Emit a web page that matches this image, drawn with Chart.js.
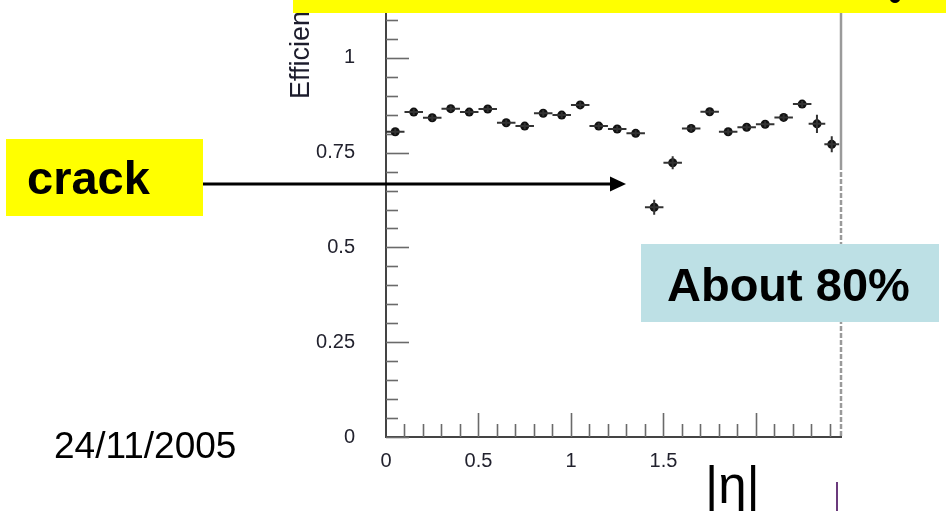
<!DOCTYPE html>
<html>
<head>
<meta charset="utf-8">
<script src="https://cdn.jsdelivr.net/npm/chart.js@4.4.1/dist/chart.umd.min.js"></script>
<style>
html,body{margin:0;padding:0;background:#fff;}
canvas{display:block;}
</style>
</head>
<body>
<canvas id="c" width="946" height="511"></canvas>
<script>
// ---- data ----
const etaValues = [0.05,0.15,0.25,0.35,0.45,0.55,0.65,0.75,0.85,0.95,1.05,1.15,1.25,1.35,1.45,1.55,1.65,1.75,1.85,1.95,2.05,2.15,2.25,2.33,2.41];
const efficiency = [0.805,0.857,0.842,0.866,0.857,0.865,0.829,0.820,0.854,0.849,0.876,0.820,0.8125,0.801,0.606,0.7235,0.814,0.858,0.805,0.817,0.825,0.843,0.878,0.826,0.772];
const effError = [0.008,0.008,0.008,0.008,0.008,0.008,0.008,0.008,0.008,0.008,0.008,0.008,0.008,0.008,0.02,0.017,0.008,0.008,0.008,0.008,0.008,0.008,0.008,0.024,0.021];
const etaError = [0.05,0.05,0.05,0.05,0.05,0.05,0.05,0.05,0.05,0.05,0.05,0.05,0.05,0.05,0.05,0.05,0.05,0.05,0.05,0.05,0.05,0.05,0.05,0.045,0.04];
const xTickLabels = [0, 0.5, 1, 1.5];
const yTickLabels = [0, 0.25, 0.5, 0.75, 1];
const yAxisTitle = 'Efficiency';
const xAxisTitle = '|\u03b7|';
const crackLabel = 'crack';
const noteLabel = 'About 80%';
const dateLabel = '24/11/2005';

const points = etaValues.map((x, i) => ({x: x, y: efficiency[i]}));

const tickColor = '#22222e';

const errorBars = {
  id: 'errorBars',
  afterDatasetsDraw(chart) {
    const ctx = chart.ctx, xs = chart.scales.x, ys = chart.scales.y;
    ctx.save();
    ctx.strokeStyle = '#333';
    ctx.lineWidth = 2;
    etaValues.forEach((x, i) => {
      const px = xs.getPixelForValue(x), py = ys.getPixelForValue(efficiency[i]);
      ctx.beginPath();
      ctx.moveTo(xs.getPixelForValue(x - etaError[i]), py);
      ctx.lineTo(xs.getPixelForValue(x + etaError[i]), py);
      ctx.moveTo(px, ys.getPixelForValue(efficiency[i] - effError[i]));
      ctx.lineTo(px, ys.getPixelForValue(efficiency[i] + effError[i]));
      ctx.stroke();
    });
    ctx.restore();
  }
};

const frameTicks = {
  id: 'frameTicks',
  beforeDatasetsDraw(chart) {
    const ctx = chart.ctx, xs = chart.scales.x, ys = chart.scales.y;
    const a = chart.chartArea;
    ctx.save();
    // right frame
    ctx.strokeStyle = '#9a9a9a';
    ctx.lineWidth = 2.5;
    ctx.beginPath();
    ctx.moveTo(a.right, a.top); ctx.lineTo(a.right, 165); ctx.stroke();
    ctx.setLineDash([5, 2]);
    ctx.beginPath();
    ctx.moveTo(a.right, 165); ctx.lineTo(a.right, a.bottom); ctx.stroke();
    ctx.setLineDash([]);
    // inner ticks
    ctx.strokeStyle = '#6a6a6a';
    ctx.lineWidth = 1.6;
    for (let i = 0; i * 0.05 <= ys.max + 1e-9; i++) {
      const py = Math.round(ys.getPixelForValue(i * 0.05)) + 0.5;
      const len = (i % 5 === 0) ? 23 : 12;
      ctx.beginPath(); ctx.moveTo(a.left, py); ctx.lineTo(a.left + len, py); ctx.stroke();
    }
    for (let i = 1; i * 0.1 <= xs.max + 1e-9; i++) {
      const px = Math.round(xs.getPixelForValue(i * 0.1)) + 0.5;
      const len = (i % 5 === 0) ? 24 : 13;
      ctx.beginPath(); ctx.moveTo(px, a.bottom); ctx.lineTo(px, a.bottom - len); ctx.stroke();
    }
    ctx.restore();
  }
};

const annotations = {
  id: 'annotations',
  afterDraw(chart) {
    const ctx = chart.ctx;
    ctx.save();
    // y-axis title (rotated)
    ctx.save();
    ctx.translate(309, 99);
    ctx.rotate(-Math.PI / 2);
    ctx.fillStyle = '#1c1c2c';
    ctx.font = "27px 'Liberation Sans', Arial, sans-serif";
    ctx.textBaseline = 'alphabetic';
    ctx.textAlign = 'left';
    ctx.fillText(yAxisTitle, 0, 0);
    ctx.restore();
    // top yellow banner
    ctx.fillStyle = '#ffff00';
    ctx.fillRect(293, 0, 653, 13);
    ctx.fillStyle = '#000';
    ctx.beginPath();
    ctx.ellipse(895, -1, 5, 4, 0, 0, Math.PI);
    ctx.fill();
    // crack box
    ctx.fillStyle = '#ffff00';
    ctx.fillRect(6, 139, 197, 77);
    ctx.fillStyle = '#000';
    ctx.font = "bold 47px 'Liberation Sans', Arial, sans-serif";
    ctx.textAlign = 'left';
    ctx.textBaseline = 'alphabetic';
    ctx.fillText(crackLabel, 27, 194);
    // arrow
    ctx.strokeStyle = '#000';
    ctx.lineWidth = 3;
    ctx.beginPath(); ctx.moveTo(203, 184); ctx.lineTo(612, 184); ctx.stroke();
    ctx.beginPath();
    ctx.moveTo(610, 176.5); ctx.lineTo(626, 184); ctx.lineTo(610, 191.5); ctx.closePath();
    ctx.fill();
    // About box
    ctx.fillStyle = '#bde0e5';
    ctx.fillRect(641, 244, 298, 78);
    ctx.fillStyle = '#000';
    ctx.fillText(noteLabel, 667, 301);
    // date
    ctx.font = "37px 'Liberation Sans', Arial, sans-serif";
    ctx.fillText(dateLabel, 54, 458);
    // x axis title
    ctx.font = "51px 'Liberation Sans', Arial, sans-serif";
    ctx.fillText(xAxisTitle, 705, 503);
    // small purple mark
    ctx.strokeStyle = '#6b3a7c';
    ctx.lineWidth = 2;
    ctx.beginPath(); ctx.moveTo(837, 482); ctx.lineTo(837, 511); ctx.stroke();
    ctx.restore();
  }
};

new Chart(document.getElementById('c'), {
  type: 'scatter',
  data: {
    datasets: [{
      data: points,
      pointRadius: 4.5,
      pointBackgroundColor: '#111',
      pointBorderWidth: 0,
      showLine: false
    }]
  },
  options: {
    responsive: false,
    animation: false,
    events: [],
    layout: {autoPadding: false, padding: {left: 0, right: 105, top: 1, bottom: 0}},
    plugins: {legend: {display: false}, tooltip: {enabled: false}},
    scales: {
      x: {
        type: 'linear', min: 0, max: 2.46,
        grid: {display: false, drawTicks: false},
        border: {display: true, color: '#444', width: 2},
        afterFit(s) { s.height = 74; },
        afterBuildTicks(s) { s.ticks = xTickLabels.map(v => ({value: v})); },
        ticks: {font: {family: "'Liberation Sans', Arial, sans-serif", size: 20},
                color: tickColor, padding: 12, maxRotation: 0, autoSkip: false,
                callback: v => String(v)}
      },
      y: {
        type: 'linear', min: 0, max: 1.15,
        grid: {display: true, drawOnChartArea: false, drawTicks: true, tickLength: 31,
               color: 'rgba(0,0,0,0)', tickColor: 'rgba(0,0,0,0)'},
        border: {display: true, color: '#444', width: 2},
        afterFit(s) { s.width = 386; },
        afterBuildTicks(s) { s.ticks = yTickLabels.map(v => ({value: v})); },
        ticks: {font: {family: "'Liberation Sans', Arial, sans-serif", size: 20, lineHeight: 0.1},
                color: tickColor, padding: 0, autoSkip: false,
                callback: v => String(v)}
      }
    }
  },
  plugins: [frameTicks, errorBars, annotations]
});
</script>
</body>
</html>
